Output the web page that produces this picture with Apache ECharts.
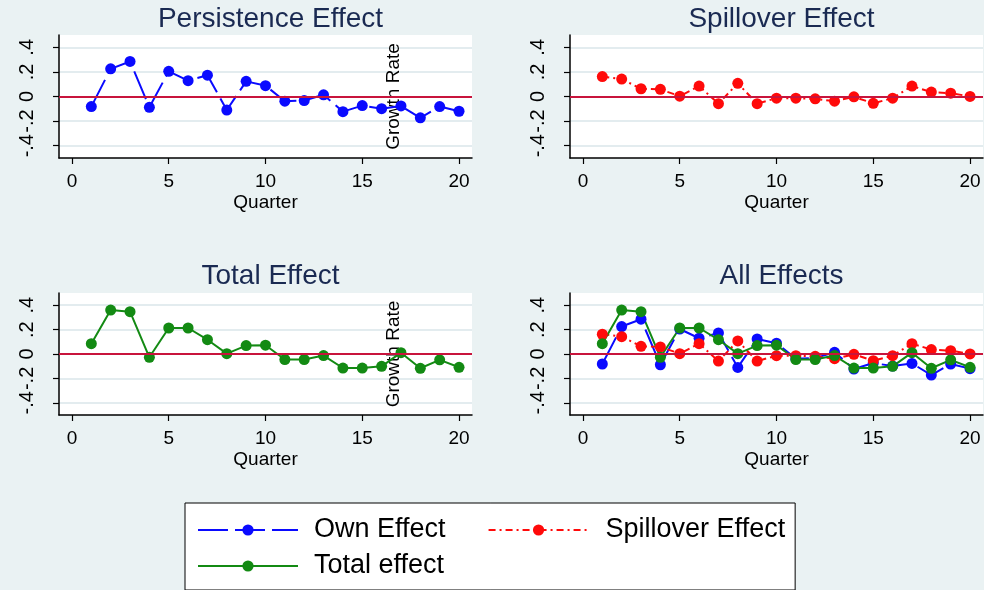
<!DOCTYPE html>
<html>
<head>
<meta charset="utf-8">
<title>Effects by quarter</title>
<script src="https://cdn.jsdelivr.net/npm/echarts@6/dist/echarts.min.js"></script>
<style>
  html, body { margin: 0; padding: 0; background: #eaf2f3; }
  #main { width: 984px; height: 590px; }
</style>
</head>
<body>
<div id="main"></div>
<script>
// values
const quarters = [1, 2, 3, 4, 5, 6, 7, 8, 9, 10, 11, 12, 13, 14, 15, 16, 17, 18, 19, 20]
const ownEffect = [-0.082, 0.225, 0.285, -0.088, 0.205, 0.129, 0.173, -0.11, 0.123, 0.088,
  -0.038, -0.033, 0.014, -0.123, -0.074, -0.099, -0.077, -0.173, -0.082, -0.12]
const spilloverEffect = [0.162, 0.142, 0.063, 0.058, 0.003, 0.085, -0.058, 0.107, -0.058, -0.014,
  -0.014, -0.019, -0.038, -0.003, -0.055, -0.014, 0.085, 0.036, 0.027, 0.001]
const totalEffect = [0.085, 0.36, 0.347, -0.027, 0.213, 0.213, 0.117, 0.003, 0.069, 0.072,
  -0.045, -0.045, -0.013, -0.115, -0.115, -0.101, 0.011, -0.117, -0.048, -0.109]
const xTicks = [0, 5, 10, 15, 20]
const yTicks = [-0.4, -0.2, 0, 0.2, 0.4]
const panelTitles = ['Persistence Effect', 'Spillover Effect', 'Total Effect', 'All Effects']
const legendNames = ['Own Effect', 'Spillover Effect', 'Total effect']

const FONT = 'Liberation Sans, Arial, sans-serif'
const BLUE = '#0a0aff'
const RED = '#ff0a0a'
const GREEN = '#138a13'

const grids = [
  { left: 59, top: 35, width: 413, height: 123 },
  { left: 570, top: 35, width: 413, height: 123 },
  { left: 59, top: 293, width: 413, height: 122 },
  { left: 570, top: 293, width: 413, height: 122 }
]

function pairs(values) {
  return quarters.map((q, i) => [q, values[i]])
}

function fmtY(v) {
  if (v === 0) return '0'
  return String(v).replace('0.', '.')
}

function makeX(i) {
  return {
    type: 'value',
    gridIndex: i,
    min: -0.67,
    max: 20.67,
    name: 'Quarter',
    nameLocation: 'middle',
    nameGap: 35,
    nameTextStyle: { fontSize: 19, color: '#000', fontFamily: FONT },
    axisLine: { onZero: false, lineStyle: { color: '#000', width: 1.5 } },
    axisTick: { show: true, customValues: xTicks, length: 6, lineStyle: { color: '#000', width: 1.2 } },
    axisLabel: { customValues: xTicks, fontSize: 19, color: '#000', fontFamily: FONT, margin: 14 },
    splitLine: { show: false }
  }
}

function makeY(i, withName) {
  return {
    type: 'value',
    gridIndex: i,
    min: -0.5,
    max: 0.5,
    name: withName ? 'Growth Rate' : '',
    nameLocation: 'middle',
    nameRotate: 90,
    nameGap: -344,
    nameTextStyle: { fontSize: 19, color: '#000', fontFamily: FONT },
    axisLine: { show: true, onZero: false, lineStyle: { color: '#000', width: 1.5 } },
    axisTick: { show: true, customValues: yTicks, length: 6, lineStyle: { color: '#000', width: 1.2 } },
    axisLabel: { customValues: yTicks, rotate: 90, formatter: fmtY, fontSize: 20, color: '#000', fontFamily: FONT, margin: 22 },
    splitLine: { show: true, lineStyle: { color: '#e3ecef', width: 2 } }
  }
}

function zeroLine(i) {
  return {
    type: 'line',
    xAxisIndex: i,
    yAxisIndex: i,
    data: [],
    z: 1,
    silent: true,
    markLine: {
      silent: true,
      symbol: 'none',
      label: { show: false },
      lineStyle: { color: '#c8143c', width: 2, type: 'solid' },
      data: [{ yAxis: 0 }]
    }
  }
}

function ownSeries(i) {
  return {
    name: 'Own Effect',
    type: 'line',
    xAxisIndex: i,
    yAxisIndex: i,
    data: pairs(ownEffect),
    symbol: 'circle',
    symbolSize: 11,
    color: BLUE,
    lineStyle: { color: BLUE, width: 2, type: [30, 7] },
    itemStyle: { color: BLUE },
    animation: false
  }
}

function spillSeries(i) {
  return {
    name: 'Spillover Effect',
    type: 'line',
    xAxisIndex: i,
    yAxisIndex: i,
    data: pairs(spilloverEffect),
    symbol: 'circle',
    symbolSize: 11,
    color: RED,
    lineStyle: { color: RED, width: 2, type: [7, 4, 2, 4] },
    itemStyle: { color: RED },
    animation: false
  }
}

function totalSeries(i) {
  return {
    name: 'Total effect',
    type: 'line',
    xAxisIndex: i,
    yAxisIndex: i,
    data: pairs(totalEffect),
    symbol: 'circle',
    symbolSize: 11,
    color: GREEN,
    lineStyle: { color: GREEN, width: 2, type: 'solid' },
    itemStyle: { color: GREEN },
    animation: false
  }
}

const chart = echarts.init(document.getElementById('main'))

chart.setOption({
  backgroundColor: '#eaf2f3',
  animation: false,
  textStyle: { fontFamily: FONT },
  title: panelTitles.map((t, i) => ({
    text: t,
    left: grids[i].left + grids[i].width / 2,
    top: i < 2 ? 0 : 257,
    textAlign: 'center',
    textStyle: { fontSize: 28, fontWeight: 'normal', color: '#1a2a52', fontFamily: FONT }
  })),
  grid: grids.map(g => Object.assign({ backgroundColor: '#fff', show: true, borderWidth: 0 }, g)),
  xAxis: [makeX(0), makeX(1), makeX(2), makeX(3)],
  yAxis: [makeY(0, true), makeY(1, false), makeY(2, true), makeY(3, false)],
  legend: {
    left: 185,
    top: 503,
    width: 600,
    padding: [12, 10, 9, 12],
    backgroundColor: '#fff',
    borderColor: '#000',
    borderWidth: 1,
    itemWidth: 100,
    itemHeight: 14,
    itemGap: 6,
    selectedMode: false,
    textStyle: { fontSize: 27, color: '#000', fontFamily: FONT, lineHeight: 30, padding: [0, 0, 0, 12] },
    data: [
      { name: legendNames[0], textStyle: { padding: [0, 36, 0, 11] } },
      { name: legendNames[1] },
      { name: legendNames[2], textStyle: { padding: [0, 0, 0, 11] } }
    ]
  },
  series: [
    zeroLine(0), ownSeries(0),
    zeroLine(1), spillSeries(1),
    zeroLine(2), totalSeries(2),
    zeroLine(3), ownSeries(3), spillSeries(3), totalSeries(3)
  ]
})
</script>
</body>
</html>
